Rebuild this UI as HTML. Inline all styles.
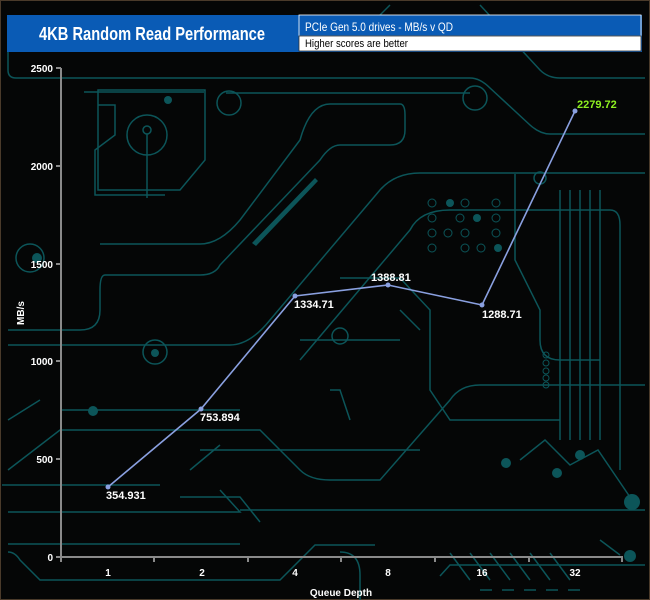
<!DOCTYPE html>
<html><head><style>
body{margin:0;background:#000;}
svg{display:block;}
text{font-family:"Liberation Sans",Arial,sans-serif;}
</style></head><body>
<svg width="650" height="600" viewBox="0 0 650 600" xmlns="http://www.w3.org/2000/svg">
<rect width="650" height="600" fill="#050606"/>
<rect x="0.5" y="0.5" width="649" height="599" fill="none" stroke="#4a3a2a"/>
<g fill="none" stroke="#0c5559" stroke-width="1.5">
<path d="M8 40 V70 Q8 78 16 78 H470 Q480 78 490 88 L530 125 Q540 134 550 134 H645"/>
<path d="M390 5 L380 15"/>
<path d="M480 5 L540 70 Q548 78 560 78 H645"/>
<path d="M98 90 H205 V160 L180 190 H98 V95 Z"/>
<path d="M84 92 H204"/>
<path d="M98 105 H115 V135 L95 150 V195 H165"/>
<circle cx="147" cy="135" r="20"/><circle cx="147" cy="130" r="4"/>
<path d="M147 134 V198"/>
<circle cx="229" cy="103" r="12"/>
<path d="M226 93 H470"/>
<circle cx="475" cy="98" r="12"/>
<path d="M100 244 H200 Q220 244 240 220 L300 140 Q310 104 330 104 H400 Q405 104 405 115 V130 Q405 145 390 145 H340 Q330 145 320 160 L220 265 Q215 275 200 275 H105 Q100 275 100 290 V310 Q100 330 80 330 H8"/>
<path d="M8 345 H230 Q250 345 270 320 L380 190 Q395 173 420 173 H645"/>
<path d="M300 360 L410 230 Q420 210 450 210 H610 Q620 210 620 225 V470"/>
<path d="M62 410 H240 M200 450 H420"/>
<path d="M8 470 L60 430 H260 L300 470 Q310 480 330 480 H380 L450 400 Q460 385 480 385 H645"/>
<path d="M190 470 L220 445 M300 340 H400 M330 390 H340 L350 420 M400 310 L420 330"/>
<path d="M8 552 Q15 552 20 560 L40 580 H280 L315 545 H375"/>
<path d="M440 576 L450 565 H645"/>
<path d="M240 510 H645 M8 512 H240 L220 490"/>
<path d="M180 497 H240 L260 522"/>
<path d="M340 278 H400 L430 310 V390 L450 420 H560"/>
<path d="M515 174 V260 L540 310 V340 Q540 360 560 360 H600"/>
<path d="M560 190 V440 M570 190 V440 M580 190 V440 M590 190 V440 M600 190 V440"/>
<path d="M2 485 H160 M8 420 L40 400" />
<path d="M8 544 H240"/>
<path d="M340 552 Q360 552 360 575 V600"/>
<path d="M450 553 L470 580 M470 553 L490 580 M490 553 L510 580 M510 553 L530 580 M530 553 L550 580 M550 553 L570 580"/>
<path d="M480 590 H590" stroke-dasharray="12 10"/>
<path d="M600 540 L620 555 M520 460 L545 440 L570 465 L598 450 L632 500"/>
<circle cx="155" cy="352" r="12"/><circle cx="340" cy="336" r="8"/>
<circle cx="540" cy="178" r="6"/>
<circle cx="30" cy="258" r="14"/>
</g>
<g fill="#0c5559">
<circle cx="168" cy="100" r="4"/><circle cx="93" cy="411" r="5"/>
<circle cx="155" cy="353" r="4"/>
<circle cx="632" cy="502" r="8"/><circle cx="630" cy="556" r="6"/>
<circle cx="506" cy="463" r="5"/><circle cx="580" cy="455" r="5"/><circle cx="557" cy="473" r="5"/>
<circle cx="37" cy="258" r="5"/>
<path d="M252 243 L315 178 L318 181 L256 246 Z" />
<circle cx="450" cy="203" r="4"/><circle cx="477" cy="218" r="4"/><circle cx="498" cy="248" r="4"/>
</g>
<g fill="none" stroke="#0c5559" stroke-width="1">
<circle cx="432" cy="203" r="4"/><circle cx="465" cy="203" r="4"/><circle cx="496" cy="203" r="4"/>
<circle cx="432" cy="218" r="4"/><circle cx="460" cy="218" r="4"/><circle cx="496" cy="218" r="4"/>
<circle cx="432" cy="233" r="4"/><circle cx="448" cy="233" r="4"/><circle cx="465" cy="233" r="4"/><circle cx="496" cy="233" r="4"/>
<circle cx="432" cy="248" r="4"/><circle cx="465" cy="248" r="4"/><circle cx="481" cy="248" r="4"/>
<circle cx="546" cy="355" r="3"/><circle cx="546" cy="363" r="3"/><circle cx="546" cy="371" r="3"/><circle cx="546" cy="378" r="3"/><circle cx="546" cy="385" r="3"/>
</g>
<!-- header -->
<rect x="7" y="15" width="635" height="37" fill="#0a5bb5"/>
<text x="39" y="40" fill="#fff" font-size="18" font-weight="bold" textLength="226" lengthAdjust="spacingAndGlyphs">4KB Random Read Performance</text>
<rect x="299" y="15" width="342" height="21" fill="#0a5bb5" stroke="#fff" stroke-width="0.8"/>
<rect x="299" y="36" width="342" height="15" fill="#fff" stroke="#333" stroke-width="0.8"/>
<text x="305" y="31" fill="#fff" font-size="12" textLength="148" lengthAdjust="spacingAndGlyphs">PCIe Gen 5.0 drives - MB/s v QD</text>
<text x="305" y="47" fill="#000" font-size="11" textLength="103" lengthAdjust="spacingAndGlyphs">Higher scores are better</text>
<!-- axes -->
<g stroke="#8a8a8a" stroke-width="2">
<line x1="61" y1="68" x2="61" y2="558"/>
<line x1="60" y1="557" x2="623" y2="557"/>
<line x1="56" y1="68" x2="61" y2="68"/><line x1="56" y1="166" x2="61" y2="166"/><line x1="56" y1="264" x2="61" y2="264"/><line x1="56" y1="361" x2="61" y2="361"/><line x1="56" y1="459" x2="61" y2="459"/><line x1="56" y1="557" x2="61" y2="557"/>
<line x1="154" y1="557" x2="154" y2="562"/><line x1="248" y1="557" x2="248" y2="562"/><line x1="341" y1="557" x2="341" y2="562"/><line x1="435" y1="557" x2="435" y2="562"/><line x1="529" y1="557" x2="529" y2="562"/><line x1="622" y1="557" x2="622" y2="562"/><line x1="61" y1="557" x2="61" y2="562"/>
</g>
<g fill="#fff" font-size="10" font-weight="bold" text-anchor="end">
<text x="53" y="72">2500</text><text x="53" y="170">2000</text><text x="53" y="268">1500</text><text x="53" y="365">1000</text><text x="53" y="463">500</text><text x="53" y="561">0</text>
</g>
<g fill="#fff" font-size="10" font-weight="bold" text-anchor="middle">
<text x="108" y="576">1</text><text x="202" y="576">2</text><text x="295" y="576">4</text><text x="388" y="576">8</text><text x="482" y="576">16</text><text x="575" y="576">32</text>
<text x="341" y="596">Queue Depth</text>
<text transform="translate(24,313) rotate(-90)">MB/s</text>
</g>
<polyline points="108,487 201,409 295,296 388,285 482,305 575,111" fill="none" stroke="#8aa0e0" stroke-width="1.6"/>
<g fill="#8aa0e0">
<circle cx="108" cy="487" r="2.5"/><circle cx="201" cy="409" r="2.5"/><circle cx="295" cy="296" r="2.5"/><circle cx="388" cy="285" r="2.5"/><circle cx="482" cy="305" r="2.5"/><circle cx="575" cy="111" r="2.5"/>
</g>
<g fill="#fff" font-size="11" font-weight="bold">
<text x="106" y="499">354.931</text>
<text x="200" y="421">753.894</text>
<text x="294" y="308">1334.71</text>
<text x="371" y="281">1388.81</text>
<text x="482" y="318">1288.71</text>
<text x="577" y="108" fill="#8ef020">2279.72</text>
</g>
</svg>
</body></html>
